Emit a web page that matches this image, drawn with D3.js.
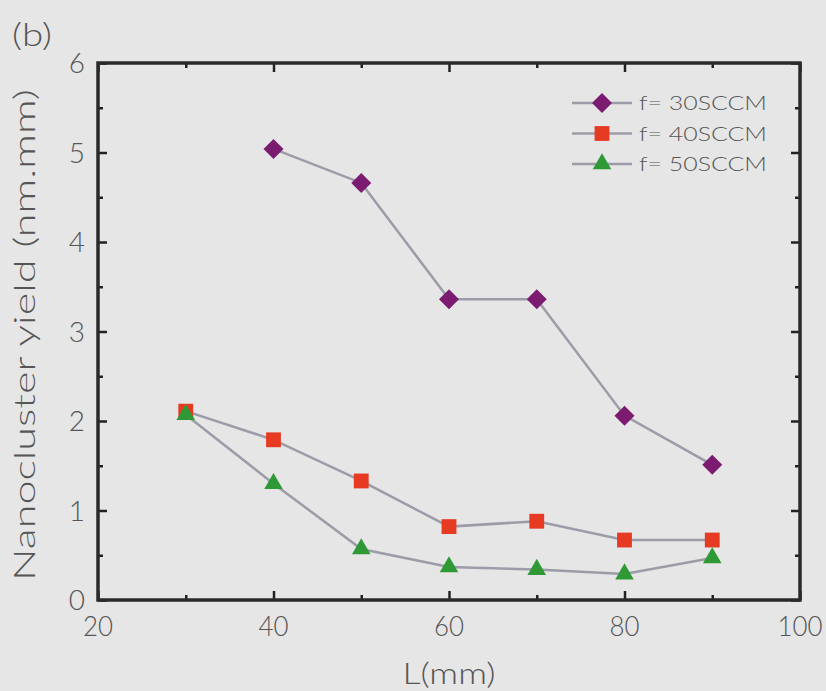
<!DOCTYPE html>
<html>
<head>
<meta charset="utf-8">
<script src="https://cdn.jsdelivr.net/npm/d3@7"></script>
<style>
  body { margin: 0; background: #e6e6e6; }
  svg { display: block; font-family: "Lato", "DejaVu Sans", sans-serif; font-weight: 300; }
</style>
</head>
<body>
<script>
const svgWidth = 826,
    svgHeight = 691,
    margin = { top: 63, right: 26, bottom: 91, left: 98 },
    width = svgWidth - margin.left - margin.right,
    height = svgHeight - margin.top - margin.bottom;

// data
var lengths = [30, 40, 50, 60, 70, 80, 90];
var seriesNames = ["f= 30SCCM", "f= 40SCCM", "f= 50SCCM"];
var yield30 = [null, 5.04, 4.66, 3.36, 3.36, 2.06, 1.51];
var yield40 = [2.11, 1.79, 1.33, 0.82, 0.88, 0.67, 0.67];
var yield50 = [2.07, 1.30, 0.57, 0.37, 0.34, 0.29, 0.47];
var xTicks = [20, 40, 60, 80, 100];
var yTicks = [0, 1, 2, 3, 4, 5, 6];

var colors = ["#7b1c70", "#e63a22", "#2f9a35"];
var symbols = [d3.symbolSquare, d3.symbolSquare, d3.symbolTriangle];
var rotations = [45, 0, 0];
var sizes = [200, 220, 150];

var svg = d3.select("body").append("svg")
    .attr("width", svgWidth)
    .attr("height", svgHeight)
    .style("background", "#e6e6e6");

var g = svg.append("g")
    .attr("transform", "translate(" + margin.left + ", " + margin.top + ")");

var x = d3.scaleLinear().domain([20, 100]).range([0, width]);
var y = d3.scaleLinear().domain([0, 6]).range([height, 0]);

// minor ticks at the halfway points, major at labels
var xMinor = d3.range(30, 100, 20);
var yMinor = d3.range(0.5, 6, 1);

function tickMarks(axisGen, vals, len, transform) {
    var a = g.append("g").attr("transform", transform)
        .call(axisGen.tickValues(vals).tickSize(len).tickFormat(""));
    a.select(".domain").remove();
    a.selectAll("line").attr("stroke", "#222").attr("stroke-width", 2.5);
}

// bottom / top
tickMarks(d3.axisTop(x), xTicks, 9, "translate(0," + height + ")");
tickMarks(d3.axisTop(x), xMinor, 5, "translate(0," + height + ")");
tickMarks(d3.axisBottom(x), xTicks, 9, "translate(0,0)");
tickMarks(d3.axisBottom(x), xMinor, 5, "translate(0,0)");
// left / right
tickMarks(d3.axisRight(y), yTicks, 9, "translate(0,0)");
tickMarks(d3.axisRight(y), yMinor, 5, "translate(0,0)");
tickMarks(d3.axisLeft(y), yTicks, 9, "translate(" + width + ",0)");
tickMarks(d3.axisLeft(y), yMinor, 5, "translate(" + width + ",0)");

// frame
g.append("rect")
    .attr("width", width).attr("height", height)
    .attr("fill", "none").attr("stroke", "#2a2a2a").attr("stroke-width", 3.5);

// tick labels
g.selectAll(".xl").data(xTicks).enter().append("text")
    .attr("x", function (d) { return x(d); })
    .attr("y", height + 36)
    .attr("text-anchor", "middle")
    .attr("font-size", 28).attr("fill", "#555")
    .attr("textLength", function (d) { return String(d).length * 15; })
    .attr("lengthAdjust", "spacingAndGlyphs")
    .text(function (d) { return d; });

g.selectAll(".yl").data(yTicks).enter().append("text")
    .attr("x", -13)
    .attr("y", function (d) { return y(d); })
    .attr("dy", "0.36em")
    .attr("text-anchor", "end")
    .attr("font-size", 28).attr("fill", "#555")
    .text(function (d) { return d; });

// axis titles
svg.append("text")
    .attr("x", margin.left + x(60))
    .attr("y", 684)
    .attr("text-anchor", "middle")
    .attr("font-size", 30).attr("fill", "#555")
    .attr("textLength", 93).attr("lengthAdjust", "spacingAndGlyphs")
    .text("L(mm)");

svg.append("text")
    .attr("transform", "translate(35,335) rotate(-90)")
    .attr("text-anchor", "middle")
    .attr("font-size", 30).attr("fill", "#555")
    .attr("textLength", 492).attr("lengthAdjust", "spacingAndGlyphs")
    .text("Nanocluster yield (nm.mm)");

svg.append("text")
    .attr("x", 12).attr("y", 46)
    .attr("font-size", 31).attr("fill", "#555")
    .attr("textLength", 40).attr("lengthAdjust", "spacingAndGlyphs")
    .text("(b)");

// series
var allSeries = [yield30, yield40, yield50];
var line = d3.line()
    .defined(function (d) { return d[1] !== null; })
    .x(function (d) { return x(d[0]); })
    .y(function (d) { return y(d[1]); });

allSeries.forEach(function (vals, i) {
    var pts = lengths.map(function (l, j) { return [l, vals[j]]; });
    g.append("path")
        .attr("d", line(pts))
        .attr("fill", "none")
        .attr("stroke", "#9c9ca8")
        .attr("stroke-width", 2.5);
    g.selectAll(".pt" + i)
        .data(pts.filter(function (p) { return p[1] !== null; }))
        .enter().append("path")
        .attr("transform", function (p) {
            return "translate(" + x(p[0]) + "," + y(p[1]) + ") rotate(" + rotations[i] + ")";
        })
        .attr("d", d3.symbol().type(symbols[i]).size(sizes[i]))
        .attr("fill", colors[i]);
});

// legend
var legend = svg.append("g").attr("transform", "translate(572,103)");
seriesNames.forEach(function (name, i) {
    var row = legend.append("g").attr("transform", "translate(0," + (i * 30.5) + ")");
    row.append("line").attr("x1", 0).attr("x2", 60)
        .attr("stroke", "#9c9ca8").attr("stroke-width", 2.5);
    row.append("path")
        .attr("transform", "translate(30,0) rotate(" + rotations[i] + ")")
        .attr("d", d3.symbol().type(symbols[i]).size(sizes[i]))
        .attr("fill", colors[i]);
    row.append("text")
        .attr("x", 67).attr("dy", "0.36em")
        .attr("font-size", 20).attr("fill", "#555")
        .attr("textLength", 128).attr("lengthAdjust", "spacingAndGlyphs")
        .text(name);
});
</script>
</body>
</html>
